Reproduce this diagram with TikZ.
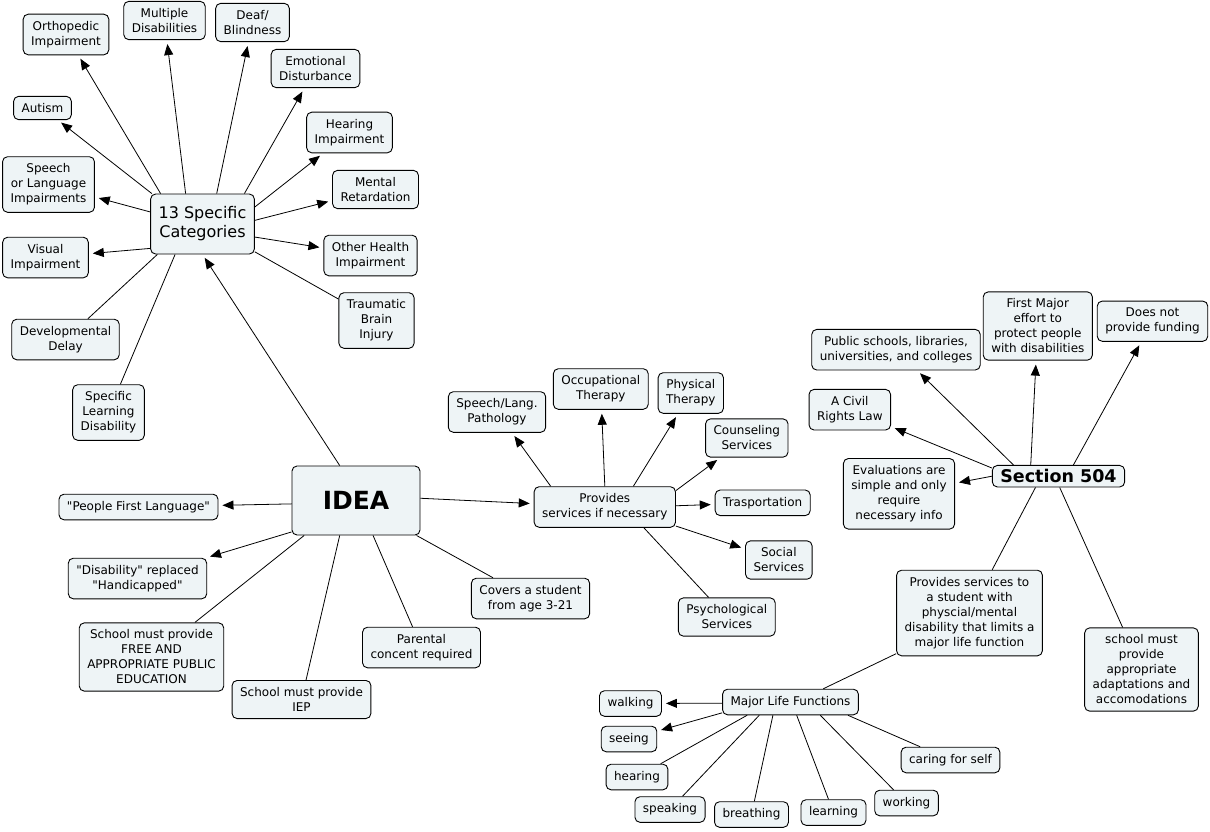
\documentclass[tikz,border=0pt]{standalone}
\usepackage{fontspec}
\newfontfamily\mapfont{DejaVu Sans}
\usetikzlibrary{arrows.meta}

\definecolor{boxfill}{HTML}{EEF4F6}

\tikzset{
  box/.style={draw, line width=0.9pt, rounded corners=5pt, fill=boxfill, align=center,
    font=\mapfont\fontsize{12}{15}\selectfont, inner xsep=8pt, inner ysep=7pt},
  link/.style={line width=0.8pt},
  arr/.style={link, ->, shorten >=4pt},
}

\begin{document}
\begin{tikzpicture}[x=1pt, y=-1pt, >={Triangle[length=11pt, width=9pt]}]
    \useasboundingbox (0,0) rectangle (1210,831);

    % 13 categories
    \node[box, font=\mapfont\fontsize{16}{19}\selectfont, minimum height=60pt] (cat) at (202.5,224) {13 Specific\\Categories};
    \node[box] (ortho) at (66,34.5) {Orthopedic\\Impairment};
    \node[box] (multi) at (164.5,20.5) {Multiple\\Disabilities};
    \node[box] (deaf) at (252.5,22.5) {Deaf/\\Blindness};
    \node[box] (emot) at (315.5,68.5) {Emotional\\Disturbance};
    \node[box] (autism) at (42.5,108) {Autism};
    \node[box] (hear) at (349.5,132.5) {Hearing\\Impairment};
    \node[box] (speech) at (48.5,184.5) {Speech\\or Language\\Impairments};
    \node[box] (mental) at (375.5,189.5) {Mental\\Retardation};
    \node[box] (visual) at (45.5,257.5) {Visual\\Impairment};
    \node[box] (other) at (370.5,255.5) {Other Health\\Impairment};
    \node[box] (tbi) at (376.5,320.5) {Traumatic\\Brain\\Injury};
    \node[box] (devel) at (65.5,339.5) {Developmental\\Delay};
    \node[box] (sld) at (108.5,412.5) {Specific\\Learning\\Disability};

    % IDEA
    \node[box, font=\mapfont\bfseries\fontsize{25}{30}\selectfont, minimum width=128pt, minimum height=69pt] (idea) at (356,500.5) {IDEA};
    \node[box] (pfl) at (138.5,507) {"People First Language"};
    \node[box] (repl) at (137.5,578.5) {"Disability" replaced\\"Handicapped"};
    \node[box] (fape) at (151.5,657) {School must provide\\FREE AND\\APPROPRIATE PUBLIC\\EDUCATION};
    \node[box] (iep) at (301.5,699.5) {School must provide\\IEP};
    \node[box] (parent) at (421.5,647.5) {Parental\\concent required};
    \node[box] (age) at (530.5,598.5) {Covers a student\\from age 3-21};

    % services
    \node[box] (serv) at (604.8,507) {Provides\\services if necessary};
    \node[box] (slp) at (497,412) {Speech/Lang.\\Pathology};
    \node[box] (ot) at (600.8,389) {Occupational\\Therapy};
    \node[box] (pt) at (690.8,393) {Physical\\Therapy};
    \node[box] (couns) at (746.8,438) {Counseling\\Services};
    \node[box] (trans) at (762.7,502.8) {Trasportation};
    \node[box] (social) at (778.8,560) {Social\\Services};
    \node[box] (psych) at (726.8,617) {Psychological\\Services};

    % Section 504
    \node[box, font=\mapfont\bfseries\fontsize{17.5}{20}\selectfont, inner ysep=4pt] (sec) at (1058.5,476.2) {Section 504};
    \node[box] (pub) at (896,349.7) {Public schools, libraries,\\universities, and colleges};
    \node[box] (first) at (1037.8,326) {First Major\\effort to\\protect people\\with disabilities};
    \node[box] (fund) at (1152.5,321.2) {Does not\\provide funding};
    \node[box] (civil) at (849.8,409.7) {A Civil\\Rights Law};
    \node[box] (eval) at (899,493.8) {Evaluations are\\simple and only\\require\\necessary info};
    \node[box] (limit) at (969.5,613) {Provides services to\\a student with\\physcial/mental\\disability that limits a\\major life function};
    \node[box] (adapt) at (1141.5,669.5) {school must\\provide\\appropriate\\adaptations and\\accomodations};

    % life functions
    \node[box] (life) at (790.5,702) {Major Life Functions};
    \node[box] (walk) at (630.5,703.5) {walking};
    \node[box] (see) at (629,739) {seeing};
    \node[box] (hearing) at (637,777) {hearing};
    \node[box] (speak) at (670,809.5) {speaking};
    \node[box] (breath) at (751.5,814.5) {breathing};
    \node[box] (learn) at (833.5,812.5) {learning};
    \node[box] (work) at (906.5,803) {working};
    \node[box] (care) at (950.5,760) {caring for self};

    % connectors
    \foreach \t/\a in {ortho/144, multi/119, deaf/65, emot/36, autism/149, hear/18, speech/167, mental/4, visual/-155, other/-14}
        \draw[arr] (cat.\a) -- (\t);
    \foreach \t/\a in {tbi/-28, devel/-146, sld/-132}
        \draw[link] (cat.\a) -- (\t);

    \draw[arr] (idea.115) -- (cat.south);
    \foreach \t/\a in {pfl/183, repl/-154, serv/2}
        \draw[arr] (idea.\a) -- (\t);
    \foreach \t/\a in {fape/-146, iep/-115, parent/-64, age/-30}
        \draw[link] (idea.\a) -- (\t);

    \foreach \t/\a in {slp/159, ot/90, pt/36, couns/13, trans/1, social/-15}
        \draw[arr] (serv.\a) -- (\t);
    \draw[link] (serv.-28) -- (psych);

    \foreach \t/\a in {pub/166, first/158, fund/37, civil/173, eval/180}
        \draw[arr] (sec.\a) -- (\t);
    \foreach \t/\a in {limit/-154, adapt/-84}
        \draw[link] (sec.\a) -- (\t);

    \draw[link] (limit.-151) -- (life.22);
    \foreach \t/\a in {walk/181, see/-171}
        \draw[arr] (life.\a) -- (\t);
    \foreach \t/\a in {hearing/-163, speak/-157, breath/-143, learn/-65, work/-24, care/-13}
        \draw[link] (life.\a) -- (\t);
\end{tikzpicture}
\end{document}
